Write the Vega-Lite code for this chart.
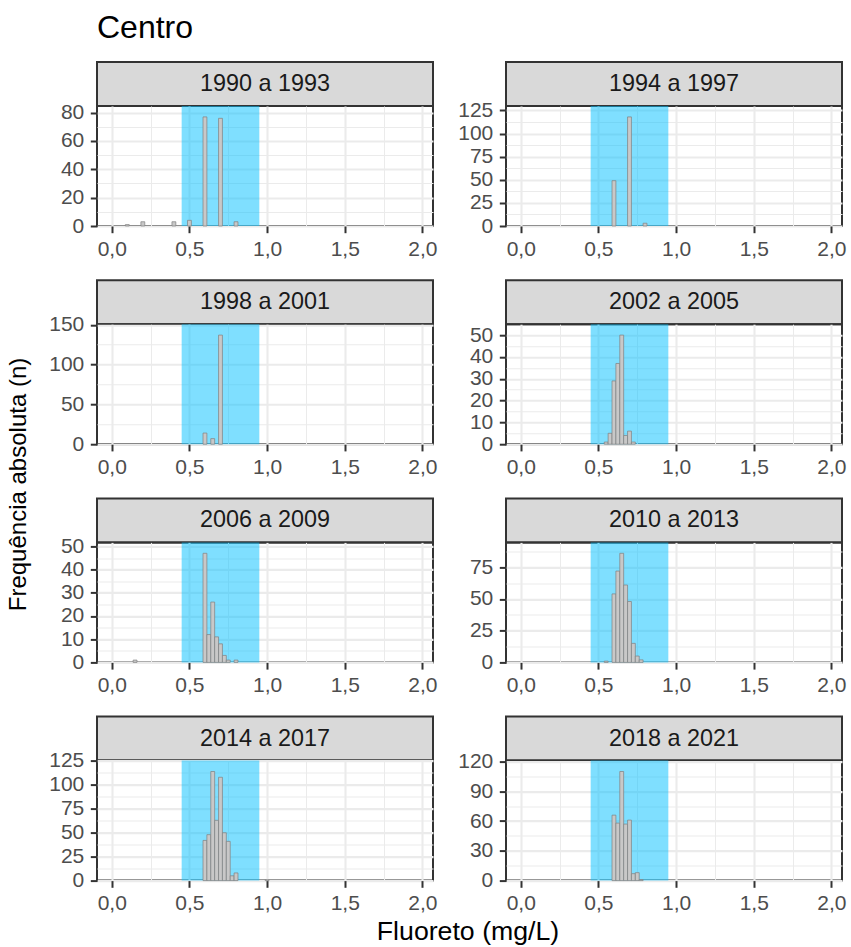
{
  "$schema": "https://vega.github.io/schema/vega-lite/v6.json",
  "background": "white",
  "padding": {"left": 6, "top": 12, "right": 5, "bottom": 0},
  "title": {"text": "Centro", "anchor": "start", "frame": "group", "fontSize": 32, "offset": 16},
  "datasets": {
    "hist": [
      {"periodo": "1990 a 1993", "lo": 0.0875, "hi": 0.1125, "n": 1},
      {"periodo": "1990 a 1993", "lo": 0.1875, "hi": 0.2125, "n": 3},
      {"periodo": "1990 a 1993", "lo": 0.3875, "hi": 0.4125, "n": 3},
      {"periodo": "1990 a 1993", "lo": 0.4875, "hi": 0.5125, "n": 4},
      {"periodo": "1990 a 1993", "lo": 0.5875, "hi": 0.6125, "n": 77},
      {"periodo": "1990 a 1993", "lo": 0.6875, "hi": 0.7125, "n": 76},
      {"periodo": "1990 a 1993", "lo": 0.7875, "hi": 0.8125, "n": 3},
      {"periodo": "1994 a 1997", "lo": 0.5875, "hi": 0.6125, "n": 49},
      {"periodo": "1994 a 1997", "lo": 0.6875, "hi": 0.7125, "n": 118},
      {"periodo": "1994 a 1997", "lo": 0.7875, "hi": 0.8125, "n": 3},
      {"periodo": "1998 a 2001", "lo": 0.5875, "hi": 0.6125, "n": 14},
      {"periodo": "1998 a 2001", "lo": 0.6375, "hi": 0.6625, "n": 7},
      {"periodo": "1998 a 2001", "lo": 0.6875, "hi": 0.7125, "n": 137},
      {"periodo": "2002 a 2005", "lo": 0.5375, "hi": 0.5625, "n": 1},
      {"periodo": "2002 a 2005", "lo": 0.5625, "hi": 0.5875, "n": 5},
      {"periodo": "2002 a 2005", "lo": 0.5875, "hi": 0.6125, "n": 29},
      {"periodo": "2002 a 2005", "lo": 0.6125, "hi": 0.6375, "n": 37},
      {"periodo": "2002 a 2005", "lo": 0.6375, "hi": 0.6625, "n": 50},
      {"periodo": "2002 a 2005", "lo": 0.6625, "hi": 0.6875, "n": 4},
      {"periodo": "2002 a 2005", "lo": 0.6875, "hi": 0.7125, "n": 6},
      {"periodo": "2002 a 2005", "lo": 0.7125, "hi": 0.7375, "n": 1},
      {"periodo": "2006 a 2009", "lo": 0.1375, "hi": 0.1625, "n": 1},
      {"periodo": "2006 a 2009", "lo": 0.5875, "hi": 0.6125, "n": 47},
      {"periodo": "2006 a 2009", "lo": 0.6125, "hi": 0.6375, "n": 12},
      {"periodo": "2006 a 2009", "lo": 0.6375, "hi": 0.6625, "n": 26},
      {"periodo": "2006 a 2009", "lo": 0.6625, "hi": 0.6875, "n": 11},
      {"periodo": "2006 a 2009", "lo": 0.6875, "hi": 0.7125, "n": 8},
      {"periodo": "2006 a 2009", "lo": 0.7125, "hi": 0.7375, "n": 3},
      {"periodo": "2006 a 2009", "lo": 0.7375, "hi": 0.7625, "n": 1},
      {"periodo": "2006 a 2009", "lo": 0.7875, "hi": 0.8125, "n": 1},
      {"periodo": "2010 a 2013", "lo": 0.5375, "hi": 0.5625, "n": 1},
      {"periodo": "2010 a 2013", "lo": 0.5875, "hi": 0.6125, "n": 54},
      {"periodo": "2010 a 2013", "lo": 0.6125, "hi": 0.6375, "n": 72},
      {"periodo": "2010 a 2013", "lo": 0.6375, "hi": 0.6625, "n": 86},
      {"periodo": "2010 a 2013", "lo": 0.6625, "hi": 0.6875, "n": 61},
      {"periodo": "2010 a 2013", "lo": 0.6875, "hi": 0.7125, "n": 48},
      {"periodo": "2010 a 2013", "lo": 0.7125, "hi": 0.7375, "n": 15},
      {"periodo": "2010 a 2013", "lo": 0.7375, "hi": 0.7625, "n": 5},
      {"periodo": "2010 a 2013", "lo": 0.7625, "hi": 0.7875, "n": 2},
      {"periodo": "2014 a 2017", "lo": 0.5875, "hi": 0.6125, "n": 42},
      {"periodo": "2014 a 2017", "lo": 0.6125, "hi": 0.6375, "n": 48},
      {"periodo": "2014 a 2017", "lo": 0.6375, "hi": 0.6625, "n": 114},
      {"periodo": "2014 a 2017", "lo": 0.6625, "hi": 0.6875, "n": 63},
      {"periodo": "2014 a 2017", "lo": 0.6875, "hi": 0.7125, "n": 108},
      {"periodo": "2014 a 2017", "lo": 0.7125, "hi": 0.7375, "n": 50},
      {"periodo": "2014 a 2017", "lo": 0.7375, "hi": 0.7625, "n": 41},
      {"periodo": "2014 a 2017", "lo": 0.7625, "hi": 0.7875, "n": 5},
      {"periodo": "2014 a 2017", "lo": 0.7875, "hi": 0.8125, "n": 8},
      {"periodo": "2014 a 2017", "lo": 0.9875, "hi": 1.0125, "n": 1},
      {"periodo": "2018 a 2021", "lo": 0.5875, "hi": 0.6125, "n": 66},
      {"periodo": "2018 a 2021", "lo": 0.6125, "hi": 0.6375, "n": 58},
      {"periodo": "2018 a 2021", "lo": 0.6375, "hi": 0.6625, "n": 110},
      {"periodo": "2018 a 2021", "lo": 0.6625, "hi": 0.6875, "n": 57},
      {"periodo": "2018 a 2021", "lo": 0.6875, "hi": 0.7125, "n": 61},
      {"periodo": "2018 a 2021", "lo": 0.7125, "hi": 0.7375, "n": 7},
      {"periodo": "2018 a 2021", "lo": 0.7375, "hi": 0.7625, "n": 8},
      {"periodo": "2018 a 2021", "lo": 0.7625, "hi": 0.7875, "n": 1}
    ],
    "faixa": [{"lo": 0.45, "hi": 0.95}]
  },
  "hconcat": [
    {
      "title": {"text": "Frequência absoluta (n)", "orient": "left", "anchor": "middle", "fontSize": 24, "offset": 10, "dx": 19},
      "vconcat": [
        {
          "title": {"text": "Fluoreto (mg/L)", "orient": "bottom", "anchor": "middle", "fontSize": 26.7, "offset": 4.5, "dx": 24},
          "columns": 2,
          "spacing": {"row": 18.2, "column": 11},
          "concat": [
            {
              "spacing": 0, "bounds": "flush",
              "vconcat": [
                {"width": 336, "height": 44, "view": {"fill": "#D9D9D9", "stroke": "#333333", "strokeWidth": 2},
                 "data": {"values": [{"periodo": "1990 a 1993"}]},
                 "mark": {"type": "text", "fontSize": 23.4, "color": "#1A1A1A"},
                 "encoding": {"text": {"field": "periodo", "type": "nominal"}}},
                {"width": 336, "height": 120, "view": {"stroke": "#333333", "strokeWidth": 2},
                 "resolve": {"axis": {"x": "independent", "y": "independent"}},
                 "layer": [
                   {"data": {"name": "faixa"},
                    "mark": {"type": "rect", "color": "#00BFFF", "opacity": 0.5},
                    "encoding": {
                      "x": {"field": "lo", "type": "quantitative", "axis": {"orient": "bottom", "values": [0.25, 0.75, 1.25, 1.75], "grid": true, "gridWidth": 1.05, "labels": false, "ticks": false}},
                      "x2": {"field": "hi"},
                      "y": {"datum": 0, "type": "quantitative", "axis": {"orient": "left", "values": [10, 30, 50, 70], "grid": true, "gridWidth": 1.05, "labels": false, "ticks": false}},
                      "y2": {"datum": 84.7}}},
                   {"data": {"name": "hist"}, "transform": [{"filter": "datum.periodo === '1990 a 1993'"}],
                    "mark": {"type": "rect", "fill": "#C8C8C8", "stroke": "#7F7F7F", "strokeWidth": 0.7},
                    "encoding": {
                      "x": {"field": "lo", "type": "quantitative", "scale": {"domain": [-0.095, 2.068], "nice": false, "zero": false, "padding": 0}, "axis": {"orient": "bottom", "values": [0, 0.5, 1, 1.5, 2], "labelExpr": "replace(format(datum.value, '.1f'), '.', ',')", "grid": true}},
                      "x2": {"field": "hi"},
                      "y": {"field": "n", "type": "quantitative", "scale": {"domain": [0, 84.7], "nice": false, "padding": 0}, "axis": {"orient": "left", "values": [0, 20, 40, 60, 80], "format": "d", "grid": true}},
                      "y2": {"datum": 0}}}
                 ]}
              ]
            },
            {
              "spacing": 0, "bounds": "flush",
              "vconcat": [
                {"width": 336, "height": 44, "view": {"fill": "#D9D9D9", "stroke": "#333333", "strokeWidth": 2},
                 "data": {"values": [{"periodo": "1994 a 1997"}]},
                 "mark": {"type": "text", "fontSize": 23.4, "color": "#1A1A1A"},
                 "encoding": {"text": {"field": "periodo", "type": "nominal"}}},
                {"width": 336, "height": 120, "view": {"stroke": "#333333", "strokeWidth": 2},
                 "resolve": {"axis": {"x": "independent", "y": "independent"}},
                 "layer": [
                   {"data": {"name": "faixa"},
                    "mark": {"type": "rect", "color": "#00BFFF", "opacity": 0.5},
                    "encoding": {
                      "x": {"field": "lo", "type": "quantitative", "axis": {"orient": "bottom", "values": [0.25, 0.75, 1.25, 1.75], "grid": true, "gridWidth": 1.05, "labels": false, "ticks": false}},
                      "x2": {"field": "hi"},
                      "y": {"datum": 0, "type": "quantitative", "axis": {"orient": "left", "values": [12.5, 37.5, 62.5, 87.5, 112.5], "grid": true, "gridWidth": 1.05, "labels": false, "ticks": false}},
                      "y2": {"datum": 129.8}}},
                   {"data": {"name": "hist"}, "transform": [{"filter": "datum.periodo === '1994 a 1997'"}],
                    "mark": {"type": "rect", "fill": "#C8C8C8", "stroke": "#7F7F7F", "strokeWidth": 0.7},
                    "encoding": {
                      "x": {"field": "lo", "type": "quantitative", "scale": {"domain": [-0.095, 2.068], "nice": false, "zero": false, "padding": 0}, "axis": {"orient": "bottom", "values": [0, 0.5, 1, 1.5, 2], "labelExpr": "replace(format(datum.value, '.1f'), '.', ',')", "grid": true}},
                      "x2": {"field": "hi"},
                      "y": {"field": "n", "type": "quantitative", "scale": {"domain": [0, 129.8], "nice": false, "padding": 0}, "axis": {"orient": "left", "values": [0, 25, 50, 75, 100, 125], "format": "d", "grid": true}},
                      "y2": {"datum": 0}}}
                 ]}
              ]
            },
            {
              "spacing": 0, "bounds": "flush",
              "vconcat": [
                {"width": 336, "height": 44, "view": {"fill": "#D9D9D9", "stroke": "#333333", "strokeWidth": 2},
                 "data": {"values": [{"periodo": "1998 a 2001"}]},
                 "mark": {"type": "text", "fontSize": 23.4, "color": "#1A1A1A"},
                 "encoding": {"text": {"field": "periodo", "type": "nominal"}}},
                {"width": 336, "height": 120, "view": {"stroke": "#333333", "strokeWidth": 2},
                 "resolve": {"axis": {"x": "independent", "y": "independent"}},
                 "layer": [
                   {"data": {"name": "faixa"},
                    "mark": {"type": "rect", "color": "#00BFFF", "opacity": 0.5},
                    "encoding": {
                      "x": {"field": "lo", "type": "quantitative", "axis": {"orient": "bottom", "values": [0.25, 0.75, 1.25, 1.75], "grid": true, "gridWidth": 1.05, "labels": false, "ticks": false}},
                      "x2": {"field": "hi"},
                      "y": {"datum": 0, "type": "quantitative", "axis": {"orient": "left", "values": [25, 75, 125], "grid": true, "gridWidth": 1.05, "labels": false, "ticks": false}},
                      "y2": {"datum": 150.7}}},
                   {"data": {"name": "hist"}, "transform": [{"filter": "datum.periodo === '1998 a 2001'"}],
                    "mark": {"type": "rect", "fill": "#C8C8C8", "stroke": "#7F7F7F", "strokeWidth": 0.7},
                    "encoding": {
                      "x": {"field": "lo", "type": "quantitative", "scale": {"domain": [-0.095, 2.068], "nice": false, "zero": false, "padding": 0}, "axis": {"orient": "bottom", "values": [0, 0.5, 1, 1.5, 2], "labelExpr": "replace(format(datum.value, '.1f'), '.', ',')", "grid": true}},
                      "x2": {"field": "hi"},
                      "y": {"field": "n", "type": "quantitative", "scale": {"domain": [0, 150.7], "nice": false, "padding": 0}, "axis": {"orient": "left", "values": [0, 50, 100, 150], "format": "d", "grid": true}},
                      "y2": {"datum": 0}}}
                 ]}
              ]
            },
            {
              "spacing": 0, "bounds": "flush",
              "vconcat": [
                {"width": 336, "height": 44, "view": {"fill": "#D9D9D9", "stroke": "#333333", "strokeWidth": 2},
                 "data": {"values": [{"periodo": "2002 a 2005"}]},
                 "mark": {"type": "text", "fontSize": 23.4, "color": "#1A1A1A"},
                 "encoding": {"text": {"field": "periodo", "type": "nominal"}}},
                {"width": 336, "height": 120, "view": {"stroke": "#333333", "strokeWidth": 2},
                 "resolve": {"axis": {"x": "independent", "y": "independent"}},
                 "layer": [
                   {"data": {"name": "faixa"},
                    "mark": {"type": "rect", "color": "#00BFFF", "opacity": 0.5},
                    "encoding": {
                      "x": {"field": "lo", "type": "quantitative", "axis": {"orient": "bottom", "values": [0.25, 0.75, 1.25, 1.75], "grid": true, "gridWidth": 1.05, "labels": false, "ticks": false}},
                      "x2": {"field": "hi"},
                      "y": {"datum": 0, "type": "quantitative", "axis": {"orient": "left", "values": [5, 15, 25, 35, 45], "grid": true, "gridWidth": 1.05, "labels": false, "ticks": false}},
                      "y2": {"datum": 55}}},
                   {"data": {"name": "hist"}, "transform": [{"filter": "datum.periodo === '2002 a 2005'"}],
                    "mark": {"type": "rect", "fill": "#C8C8C8", "stroke": "#7F7F7F", "strokeWidth": 0.7},
                    "encoding": {
                      "x": {"field": "lo", "type": "quantitative", "scale": {"domain": [-0.095, 2.068], "nice": false, "zero": false, "padding": 0}, "axis": {"orient": "bottom", "values": [0, 0.5, 1, 1.5, 2], "labelExpr": "replace(format(datum.value, '.1f'), '.', ',')", "grid": true}},
                      "x2": {"field": "hi"},
                      "y": {"field": "n", "type": "quantitative", "scale": {"domain": [0, 55], "nice": false, "padding": 0}, "axis": {"orient": "left", "values": [0, 10, 20, 30, 40, 50], "format": "d", "grid": true}},
                      "y2": {"datum": 0}}}
                 ]}
              ]
            },
            {
              "spacing": 0, "bounds": "flush",
              "vconcat": [
                {"width": 336, "height": 44, "view": {"fill": "#D9D9D9", "stroke": "#333333", "strokeWidth": 2},
                 "data": {"values": [{"periodo": "2006 a 2009"}]},
                 "mark": {"type": "text", "fontSize": 23.4, "color": "#1A1A1A"},
                 "encoding": {"text": {"field": "periodo", "type": "nominal"}}},
                {"width": 336, "height": 120, "view": {"stroke": "#333333", "strokeWidth": 2},
                 "resolve": {"axis": {"x": "independent", "y": "independent"}},
                 "layer": [
                   {"data": {"name": "faixa"},
                    "mark": {"type": "rect", "color": "#00BFFF", "opacity": 0.5},
                    "encoding": {
                      "x": {"field": "lo", "type": "quantitative", "axis": {"orient": "bottom", "values": [0.25, 0.75, 1.25, 1.75], "grid": true, "gridWidth": 1.05, "labels": false, "ticks": false}},
                      "x2": {"field": "hi"},
                      "y": {"datum": 0, "type": "quantitative", "axis": {"orient": "left", "values": [5, 15, 25, 35, 45], "grid": true, "gridWidth": 1.05, "labels": false, "ticks": false}},
                      "y2": {"datum": 51.7}}},
                   {"data": {"name": "hist"}, "transform": [{"filter": "datum.periodo === '2006 a 2009'"}],
                    "mark": {"type": "rect", "fill": "#C8C8C8", "stroke": "#7F7F7F", "strokeWidth": 0.7},
                    "encoding": {
                      "x": {"field": "lo", "type": "quantitative", "scale": {"domain": [-0.095, 2.068], "nice": false, "zero": false, "padding": 0}, "axis": {"orient": "bottom", "values": [0, 0.5, 1, 1.5, 2], "labelExpr": "replace(format(datum.value, '.1f'), '.', ',')", "grid": true}},
                      "x2": {"field": "hi"},
                      "y": {"field": "n", "type": "quantitative", "scale": {"domain": [0, 51.7], "nice": false, "padding": 0}, "axis": {"orient": "left", "values": [0, 10, 20, 30, 40, 50], "format": "d", "grid": true}},
                      "y2": {"datum": 0}}}
                 ]}
              ]
            },
            {
              "spacing": 0, "bounds": "flush",
              "vconcat": [
                {"width": 336, "height": 44, "view": {"fill": "#D9D9D9", "stroke": "#333333", "strokeWidth": 2},
                 "data": {"values": [{"periodo": "2010 a 2013"}]},
                 "mark": {"type": "text", "fontSize": 23.4, "color": "#1A1A1A"},
                 "encoding": {"text": {"field": "periodo", "type": "nominal"}}},
                {"width": 336, "height": 120, "view": {"stroke": "#333333", "strokeWidth": 2},
                 "resolve": {"axis": {"x": "independent", "y": "independent"}},
                 "layer": [
                   {"data": {"name": "faixa"},
                    "mark": {"type": "rect", "color": "#00BFFF", "opacity": 0.5},
                    "encoding": {
                      "x": {"field": "lo", "type": "quantitative", "axis": {"orient": "bottom", "values": [0.25, 0.75, 1.25, 1.75], "grid": true, "gridWidth": 1.05, "labels": false, "ticks": false}},
                      "x2": {"field": "hi"},
                      "y": {"datum": 0, "type": "quantitative", "axis": {"orient": "left", "values": [12.5, 37.5, 62.5, 87.5], "grid": true, "gridWidth": 1.05, "labels": false, "ticks": false}},
                      "y2": {"datum": 94.6}}},
                   {"data": {"name": "hist"}, "transform": [{"filter": "datum.periodo === '2010 a 2013'"}],
                    "mark": {"type": "rect", "fill": "#C8C8C8", "stroke": "#7F7F7F", "strokeWidth": 0.7},
                    "encoding": {
                      "x": {"field": "lo", "type": "quantitative", "scale": {"domain": [-0.095, 2.068], "nice": false, "zero": false, "padding": 0}, "axis": {"orient": "bottom", "values": [0, 0.5, 1, 1.5, 2], "labelExpr": "replace(format(datum.value, '.1f'), '.', ',')", "grid": true}},
                      "x2": {"field": "hi"},
                      "y": {"field": "n", "type": "quantitative", "scale": {"domain": [0, 94.6], "nice": false, "padding": 0}, "axis": {"orient": "left", "values": [0, 25, 50, 75], "format": "d", "grid": true}},
                      "y2": {"datum": 0}}}
                 ]}
              ]
            },
            {
              "spacing": 0, "bounds": "flush",
              "vconcat": [
                {"width": 336, "height": 44, "view": {"fill": "#D9D9D9", "stroke": "#333333", "strokeWidth": 2},
                 "data": {"values": [{"periodo": "2014 a 2017"}]},
                 "mark": {"type": "text", "fontSize": 23.4, "color": "#1A1A1A"},
                 "encoding": {"text": {"field": "periodo", "type": "nominal"}}},
                {"width": 336, "height": 120, "view": {"stroke": "#333333", "strokeWidth": 2},
                 "resolve": {"axis": {"x": "independent", "y": "independent"}},
                 "layer": [
                   {"data": {"name": "faixa"},
                    "mark": {"type": "rect", "color": "#00BFFF", "opacity": 0.5},
                    "encoding": {
                      "x": {"field": "lo", "type": "quantitative", "axis": {"orient": "bottom", "values": [0.25, 0.75, 1.25, 1.75], "grid": true, "gridWidth": 1.05, "labels": false, "ticks": false}},
                      "x2": {"field": "hi"},
                      "y": {"datum": 0, "type": "quantitative", "axis": {"orient": "left", "values": [12.5, 37.5, 62.5, 87.5, 112.5], "grid": true, "gridWidth": 1.05, "labels": false, "ticks": false}},
                      "y2": {"datum": 125.4}}},
                   {"data": {"name": "hist"}, "transform": [{"filter": "datum.periodo === '2014 a 2017'"}],
                    "mark": {"type": "rect", "fill": "#C8C8C8", "stroke": "#7F7F7F", "strokeWidth": 0.7},
                    "encoding": {
                      "x": {"field": "lo", "type": "quantitative", "scale": {"domain": [-0.095, 2.068], "nice": false, "zero": false, "padding": 0}, "axis": {"orient": "bottom", "values": [0, 0.5, 1, 1.5, 2], "labelExpr": "replace(format(datum.value, '.1f'), '.', ',')", "grid": true}},
                      "x2": {"field": "hi"},
                      "y": {"field": "n", "type": "quantitative", "scale": {"domain": [0, 125.4], "nice": false, "padding": 0}, "axis": {"orient": "left", "values": [0, 25, 50, 75, 100, 125], "format": "d", "grid": true}},
                      "y2": {"datum": 0}}}
                 ]}
              ]
            },
            {
              "spacing": 0, "bounds": "flush",
              "vconcat": [
                {"width": 336, "height": 44, "view": {"fill": "#D9D9D9", "stroke": "#333333", "strokeWidth": 2},
                 "data": {"values": [{"periodo": "2018 a 2021"}]},
                 "mark": {"type": "text", "fontSize": 23.4, "color": "#1A1A1A"},
                 "encoding": {"text": {"field": "periodo", "type": "nominal"}}},
                {"width": 336, "height": 120, "view": {"stroke": "#333333", "strokeWidth": 2},
                 "resolve": {"axis": {"x": "independent", "y": "independent"}},
                 "layer": [
                   {"data": {"name": "faixa"},
                    "mark": {"type": "rect", "color": "#00BFFF", "opacity": 0.5},
                    "encoding": {
                      "x": {"field": "lo", "type": "quantitative", "axis": {"orient": "bottom", "values": [0.25, 0.75, 1.25, 1.75], "grid": true, "gridWidth": 1.05, "labels": false, "ticks": false}},
                      "x2": {"field": "hi"},
                      "y": {"datum": 0, "type": "quantitative", "axis": {"orient": "left", "values": [15, 45, 75, 105], "grid": true, "gridWidth": 1.05, "labels": false, "ticks": false}},
                      "y2": {"datum": 121}}},
                   {"data": {"name": "hist"}, "transform": [{"filter": "datum.periodo === '2018 a 2021'"}],
                    "mark": {"type": "rect", "fill": "#C8C8C8", "stroke": "#7F7F7F", "strokeWidth": 0.7},
                    "encoding": {
                      "x": {"field": "lo", "type": "quantitative", "scale": {"domain": [-0.095, 2.068], "nice": false, "zero": false, "padding": 0}, "axis": {"orient": "bottom", "values": [0, 0.5, 1, 1.5, 2], "labelExpr": "replace(format(datum.value, '.1f'), '.', ',')", "grid": true}},
                      "x2": {"field": "hi"},
                      "y": {"field": "n", "type": "quantitative", "scale": {"domain": [0, 121], "nice": false, "padding": 0}, "axis": {"orient": "left", "values": [0, 30, 60, 90, 120], "format": "d", "grid": true}},
                      "y2": {"datum": 0}}}
                 ]}
              ]
            }
          ]
        }
      ]
    }
  ],
  "config": {
    "font": "Liberation Sans",
    "title": {"font": "Liberation Sans", "fontWeight": "normal", "color": "#000000"},
    "axis": {
      "title": null,
      "domain": false,
      "labelFont": "Liberation Sans",
      "labelFontSize": 21,
      "labelColor": "#4D4D4D",
      "labelFlush": false,
      "labelOverlap": false,
      "tickColor": "#333333",
      "tickWidth": 2,
      "tickSize": 6.7,
      "gridColor": "#EBEBEB",
      "gridWidth": 2.1
    },
    "axisX": {"labelPadding": 5.5},
    "axisY": {"labelPadding": 6.5, "minExtent": 55, "maxExtent": 55}
  }
}
